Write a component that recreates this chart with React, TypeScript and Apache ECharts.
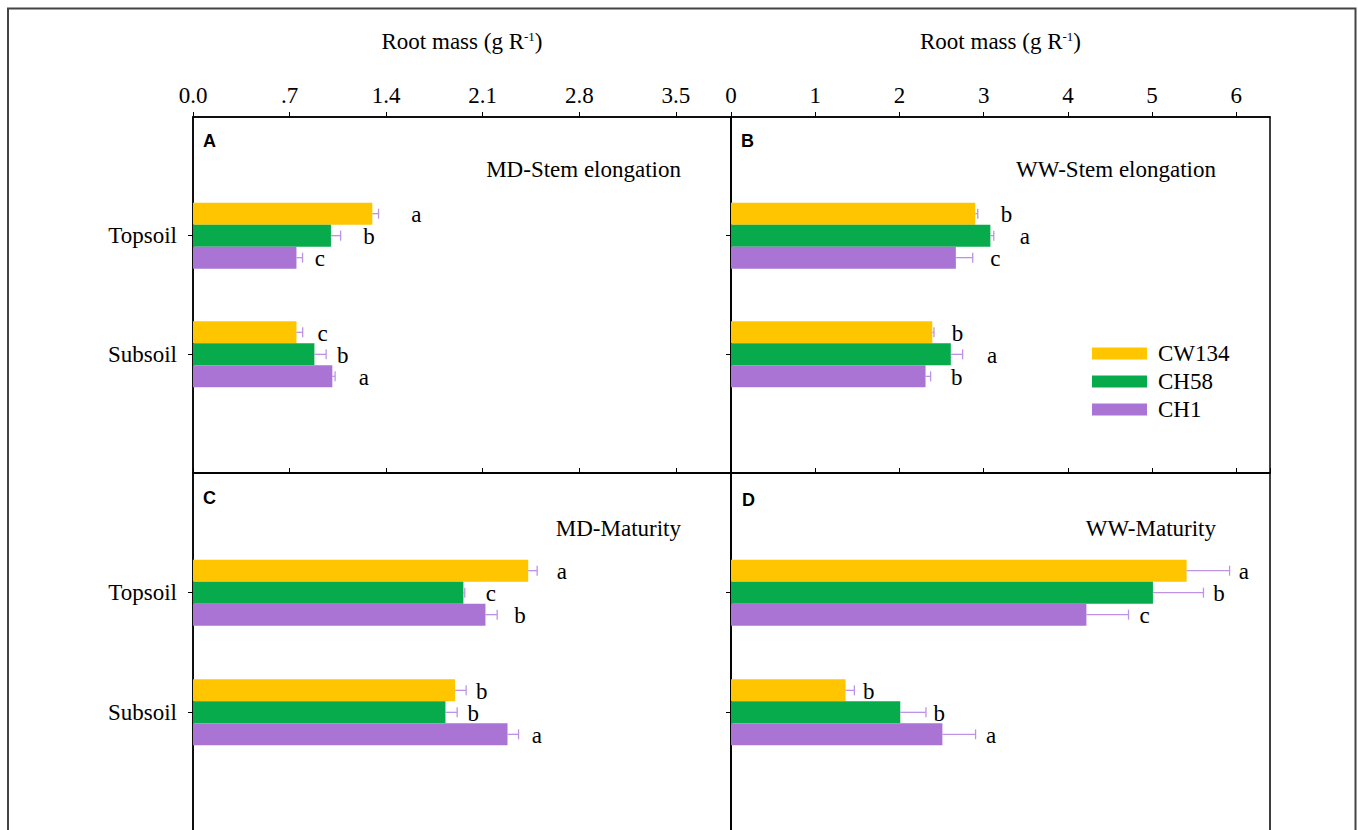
import React, { useEffect, useRef } from 'react';
import * as echarts from 'echarts';

// ---------- data ----------
const categories = [' ', 'Topsoil', 'Subsoil', '  '];
const seriesNames = ['CW134', 'CH58', 'CH1'];
const barColors = ['#FFC600', '#08AB4C', '#A974D4'];

const tickLabelsMD = ['0.0', '.7', '1.4', '2.1', '2.8', '3.5'];
const tickLabelsWW = ['0', '1', '2', '3', '4', '5', '6'];

// each row = cultivar (CW134, CH58, CH1), columns = [Topsoil, Subsoil]
const mdStemValues = [[1.30, 0.75], [1.00, 0.88], [0.75, 1.01]];
const mdStemErrors = [[0.045, 0.045], [0.07, 0.085], [0.044, 0.02]];
const mdStemLetters = [['a', 'c'], ['b', 'b'], ['c', 'a']];
const mdStemLetterX = [[1.62, 0.94], [1.275, 1.086], [0.919, 1.238]];

const wwStemValues = [[2.90, 2.39], [3.08, 2.61], [2.67, 2.31]];
const wwStemErrors = [[0.03, 0.02], [0.04, 0.14], [0.2, 0.06]];
const wwStemLetters = [['b', 'b'], ['a', 'a'], ['c', 'b']];
const wwStemLetterX = [[3.27, 2.69], [3.49, 3.10], [3.14, 2.68]];

const mdMatValues = [[2.43, 1.90], [1.96, 1.83], [2.12, 2.28]];
const mdMatErrors = [[0.065, 0.08], [0.01, 0.085], [0.085, 0.08]];
const mdMatLetters = [['a', 'b'], ['c', 'b'], ['b', 'a']];
const mdMatLetterX = [[2.674, 2.093], [2.16, 2.032], [2.371, 2.492]];

const wwMatValues = [[5.41, 1.36], [5.01, 2.01], [4.22, 2.51]];
const wwMatErrors = [[0.51, 0.105], [0.6, 0.305], [0.5, 0.394]];
const wwMatLetters = [['a', 'b'], ['b', 'b'], ['c', 'a']];
const wwMatLetterX = [[6.09, 1.635], [5.795, 2.473], [4.91, 3.088]];

const panelTitles = ['MD-Stem elongation', 'WW-Stem elongation', 'MD-Maturity', 'WW-Maturity'];
const panelLetters = ['A', 'B', 'C', 'D'];

// ---------- style ----------
const SERIF = '"Liberation Serif", "Times New Roman", serif';
const SANS = '"Liberation Sans", Arial, sans-serif';
const BAR_W = 22;
const ERR_COLOR = '#BE93E6';
const FONT = 23;

const panels = [
  { values: mdStemValues, errors: mdStemErrors, letters: mdStemLetters, letterX: mdStemLetterX, max: 3.9, interval: 0.7, ticks: tickLabelsMD },
  { values: wwStemValues, errors: wwStemErrors, letters: wwStemLetters, letterX: wwStemLetterX, max: 6.4, interval: 1, ticks: tickLabelsWW },
  { values: mdMatValues, errors: mdMatErrors, letters: mdMatLetters, letterX: mdMatLetterX, max: 3.9, interval: 0.7, ticks: tickLabelsMD },
  { values: wwMatValues, errors: wwMatErrors, letters: wwMatLetters, letterX: wwMatLetterX, max: 6.4, interval: 1, ticks: tickLabelsWW },
];

const gridRects = [
  { left: 193, top: 117, width: 538, height: 356 },
  { left: 731, top: 117, width: 539, height: 356 },
  { left: 193, top: 473, width: 538, height: 359 },
  { left: 731, top: 473, width: 539, height: 359 },
];

function buildOption() {
  const grid = gridRects.map((r) => ({
    ...r,
    show: true,
    borderColor: '#000',
    borderWidth: 1.5,
    backgroundColor: 'transparent',
    containLabel: false,
    outerBoundsMode: 'none',
  }));

  const xAxis = panels.map((p, i) => ({
    type: 'value',
    gridIndex: i,
    position: 'top',
    min: 0,
    max: p.max,
    interval: p.interval,
    name: i < 2 ? 'Root mass (g R{sup|-1})' : '',
    nameLocation: 'middle',
    nameGap: 64,
    nameTextStyle: {
      fontFamily: SERIF,
      fontSize: FONT,
      color: '#000',
      rich: { sup: { fontFamily: SERIF, fontSize: 13, color: '#000', verticalAlign: 'top', padding: [0, 0, 10, 0] } },
    },
    axisLine: { show: true, lineStyle: { color: '#000', width: 1.5 } },
    axisTick: { show: true, inside: false, length: 5, lineStyle: { color: '#000', width: 1 } },
    splitLine: { show: false },
    axisLabel: {
      show: i < 2,
      showMaxLabel: false,
      margin: 10,
      fontFamily: SERIF,
      fontSize: FONT,
      color: '#000',
      formatter: (_v: number, idx: number) => p.ticks[idx] ?? '',
    },
  }));

  const yAxis = panels.map((_p, i) => ({
    type: 'category',
    gridIndex: i,
    data: categories,
    inverse: true,
    boundaryGap: false,
    axisLine: { show: true, lineStyle: { color: '#000', width: 1.5 } },
    axisTick: {
      show: true,
      length: 5,
      interval: (idx: number) => idx === 1 || idx === 2,
      lineStyle: { color: '#000', width: 1 },
    },
    axisLabel: {
      show: i % 2 === 0,
      interval: (idx: number) => idx === 1 || idx === 2,
      margin: 16,
      fontFamily: SERIF,
      fontSize: FONT,
      color: '#000',
    },
    splitLine: { show: false },
  }));

  const series: any[] = [];
  panels.forEach((p, pi) => {
    seriesNames.forEach((name, si) => {
      series.push({
        type: 'bar',
        name,
        xAxisIndex: pi,
        yAxisIndex: pi,
        barWidth: BAR_W,
        barGap: '0%',
        itemStyle: { color: barColors[si] },
        data: [[p.values[si][0], 1], [p.values[si][1], 2]],
        z: 2,
      });
    });
    const errData: any[] = [];
    const letterList: string[] = [];
    seriesNames.forEach((_n, si) => {
      [0, 1].forEach((ci) => {
        errData.push([p.values[si][ci], ci + 1, si, p.errors[si][ci], p.letterX[si][ci]]);
        letterList.push(p.letters[si][ci]);
      });
    });
    series.push({
      type: 'custom',
      name: 'errors' + pi,
      xAxisIndex: pi,
      yAxisIndex: pi,
      clip: false,
      z: 5,
      encode: { x: 0, y: 1 },
      data: errData,
      renderItem: (params: any, api: any) => {
        const v = api.value(0);
        const cat = api.value(1);
        const s = api.value(2);
        const err = api.value(3);
        const lx = api.value(4);
        const p0 = api.coord([v, cat]);
        const p1 = api.coord([v + err, cat]);
        const pl = api.coord([lx, cat]);
        const y = p0[1] + (s - 1) * BAR_W;
        return {
          type: 'group',
          children: [
            { type: 'line', shape: { x1: p0[0], y1: y, x2: p1[0], y2: y }, style: { stroke: ERR_COLOR, lineWidth: 1.3 } },
            { type: 'line', shape: { x1: p1[0], y1: y - 5, x2: p1[0], y2: y + 5 }, style: { stroke: ERR_COLOR, lineWidth: 1.3 } },
            {
              type: 'text',
              x: pl[0],
              y: y + 1,
              style: {
                text: letterList[params.dataIndex],
                fontFamily: SERIF,
                fontSize: FONT,
                fill: '#000',
                align: 'center',
                verticalAlign: 'middle',
              },
            },
          ],
        };
      },
    });
  });

  const graphic: any[] = [
    {
      type: 'rect',
      shape: { x: 8, y: 8.5, width: 1347.5, height: 900 },
      style: { fill: 'none', stroke: '#444', lineWidth: 2 },
      silent: true,
    },
  ];
  const letterPos = [[203, 141], [741, 141], [203, 498], [742, 500]];
  const titlePos = [[681, 169], [1216, 169], [681, 528], [1216, 528]];
  panelLetters.forEach((t, i) => {
    graphic.push({
      type: 'text',
      x: letterPos[i][0],
      y: letterPos[i][1],
      style: { text: t, font: `bold 18px ${SANS}`, fill: '#000', verticalAlign: 'middle', align: 'left' },
    });
    graphic.push({
      type: 'text',
      x: titlePos[i][0],
      y: titlePos[i][1],
      style: { text: panelTitles[i], font: `${FONT}px ${SERIF}`, fill: '#000', verticalAlign: 'middle', align: 'right' },
    });
  });

  return {
    animation: false,
    backgroundColor: '#fff',
    grid,
    xAxis,
    yAxis,
    series,
    graphic,
    legend: {
      data: seriesNames,
      orient: 'vertical',
      left: 1087,
      top: 337,
      icon: 'rect',
      itemWidth: 55,
      itemHeight: 12,
      itemGap: 5,
      textStyle: { fontFamily: SERIF, fontSize: FONT, color: '#000', padding: [0, 0, 0, 6] },
    },
  };
}

export default function App() {
  const ref = useRef<HTMLDivElement>(null);
  useEffect(() => {
    document.body.style.margin = '0';
    if (!ref.current) return;
    const chart = echarts.init(ref.current, undefined, { renderer: 'svg' });
    chart.setOption(buildOption() as any);
    return () => chart.dispose();
  }, []);
  return <div ref={ref} style={{ width: 1358, height: 830 }} />;
}
